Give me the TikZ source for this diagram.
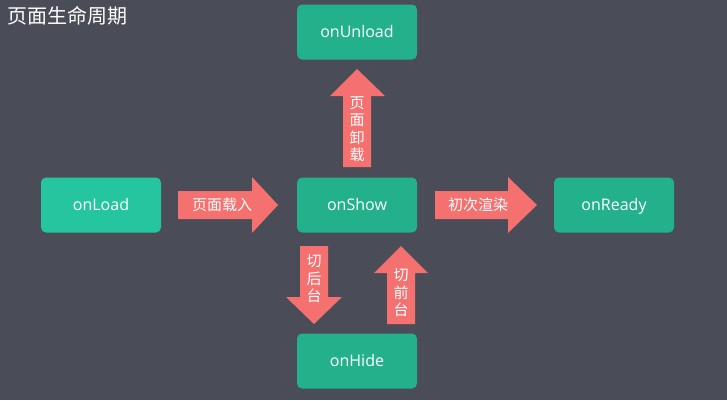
\documentclass[tikz,border=0pt]{standalone}
\usepackage{fontspec}
\setmainfont{Open Sans}
\newfontfamily\cjk{Noto Sans CJK SC}
\usetikzlibrary{positioning}

\definecolor{bgcol}{HTML}{4A4C58}
\definecolor{boxcol}{HTML}{22B18B}
\definecolor{loadcol}{HTML}{25C69F}
\definecolor{arrowcol}{HTML}{F5716F}

\tikzset{
	hook/.style={fill=boxcol, rounded corners=5pt, minimum width=120pt, minimum height=55pt, text=white, text height=13pt, text depth=2pt, font=\fontsize{16}{18}\selectfont},
	arrowfill/.style={fill=arrowcol},
	arrowtext/.style={text=white, font=\cjk\fontsize{15}{17.5}\selectfont, align=center, inner sep=0pt}
}

\begin{document}
\begin{tikzpicture}[x=1pt,y=-1pt]
	\fill[bgcol] (0,0) rectangle (727,400);
	\useasboundingbox (0,0) rectangle (727,400);

	\node[anchor=west, text=white, font=\cjk\fontsize{20}{22}\selectfont, inner sep=0pt] (title) at (7,16) {页面生命周期};

	% lifecycle hooks
	\node[hook, fill=loadcol] (load) at (101,205) {onLoad};
	\node[hook] (show) at (357,205) {onShow};
	\node[hook] (unload) at (357,32) {onUnload};
	\node[hook] (hide) at (357,361) {onHide};
	\node[hook] (ready) at (614,205) {onReady};

	% block arrows
	\fill[arrowfill] (178,191) -- (252,191) -- (252,177) -- (278,205) -- (252,233) -- (252,219) -- (178,219) -- cycle;
	\fill[arrowfill] (435,191) -- (508,191) -- (508,177) -- (537,205) -- (508,233) -- (508,219) -- (435,219) -- cycle;
	\fill[arrowfill] (343,167) -- (343,96) -- (330,96) -- (357,69) -- (385,96) -- (371,96) -- (371,167) -- cycle;
	\fill[arrowfill] (300,246) -- (328,246) -- (328,297) -- (342,297) -- (314,324) -- (286,297) -- (300,297) -- cycle;
	\fill[arrowfill] (387,324) -- (387,273) -- (374,273) -- (401,246) -- (428,273) -- (415,273) -- (415,324) -- cycle;

	\node[arrowtext] (enter) at (222,205) {页面载入};
	\node[arrowtext] (render) at (478,205) {初次渲染};
	\node[arrowtext] (leave) at (357,129) {页\\面\\卸\\载};
	\node[arrowtext] (back) at (314,279) {切\\后\\台};
	\node[arrowtext] (front) at (401,293) {切\\前\\台};
\end{tikzpicture}
\end{document}
